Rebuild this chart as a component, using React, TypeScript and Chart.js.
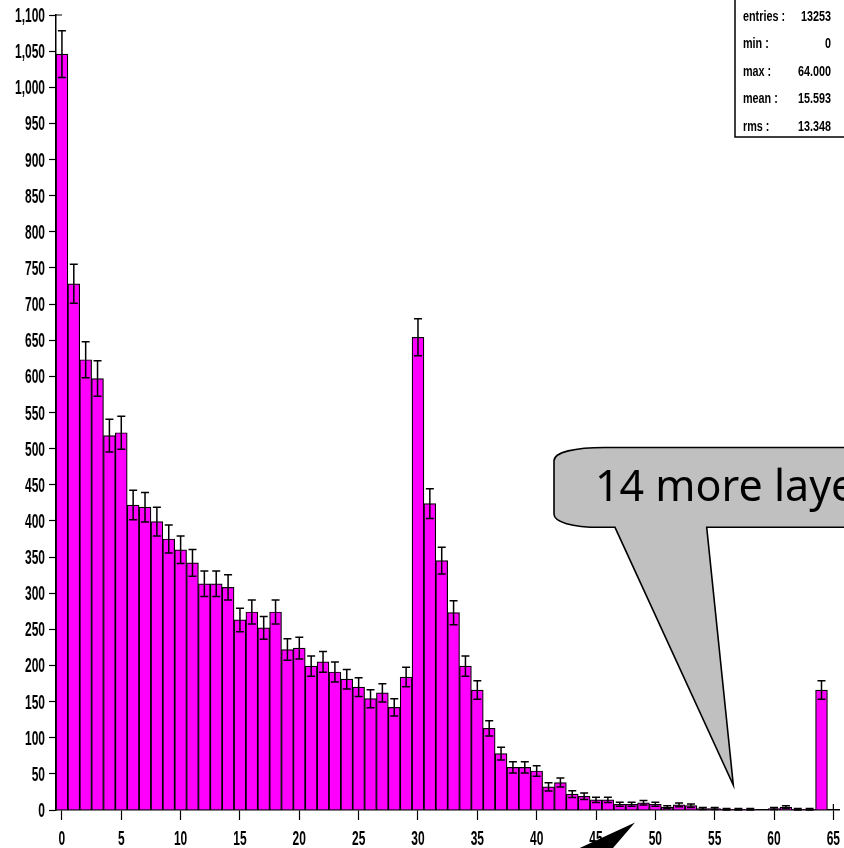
import React, { useEffect, useRef } from "react";
import { Chart, registerables } from "chart.js";

Chart.register(...registerables);

// ---- data ----
const binCenters = [
  0, 1, 2, 3, 4, 5, 6, 7, 8, 9, 10, 11, 12, 13, 14, 15, 16, 17, 18, 19, 20,
  21, 22, 23, 24, 25, 26, 27, 28, 29, 30, 31, 32, 33, 34, 35, 36, 37, 38, 39,
  40, 41, 42, 43, 44, 45, 46, 47, 48, 49, 50, 51, 52, 53, 54, 55, 56, 57, 58,
  59, 60, 61, 62, 63, 64,
];
const counts = [
  1046, 728, 623, 597, 518, 522, 422, 419, 399, 375, 360, 342, 313, 313, 308,
  263, 274, 252, 274, 222, 224, 199, 205, 191, 181, 170, 154, 162, 142, 184,
  654, 424, 345, 273, 199, 166, 113, 78, 59, 59, 54, 32, 38, 22, 19, 14, 14, 8,
  8, 10, 8, 4, 7, 6, 2, 2, 1, 1, 1, 0, 2, 4, 1, 1, 166,
];
const xTickValues = [0, 5, 10, 15, 20, 25, 30, 35, 40, 45, 50, 55, 60, 65];
const yTickValues = [
  0, 50, 100, 150, 200, 250, 300, 350, 400, 450, 500, 550, 600, 650, 700, 750,
  800, 850, 900, 950, 1000, 1050, 1100,
];
const statLabels = ["entries :", "min :", "max :", "mean :", "rms :"];
const statValues = ["13253", "0", "64.000", "15.593", "13.348"];
const calloutText = "14 more layers";

const SANS = '"Liberation Sans", Arial, sans-serif';

function narrowText(ctx: CanvasRenderingContext2D, text: string, x: number, y: number, align: CanvasTextAlign, sx: number) {
  ctx.save();
  ctx.translate(x, y);
  ctx.scale(sx, 1);
  ctx.textAlign = align;
  ctx.textBaseline = "alphabetic";
  ctx.fillText(text, 0, 0);
  ctx.restore();
}

const errorBarsPlugin = {
  id: "errorBars",
  afterDatasetsDraw(chart: any) {
    const { ctx } = chart;
    const xs = chart.scales.x;
    const ys = chart.scales.y;
    ctx.save();
    ctx.strokeStyle = "#000";
    ctx.lineWidth = 1.5;
    counts.forEach((c, i) => {
      if (c <= 0) return;
      const e = Math.sqrt(c);
      const px = xs.getPixelForValue(binCenters[i]);
      const yt = ys.getPixelForValue(c + e);
      const yb = ys.getPixelForValue(Math.max(c - e, 0));
      ctx.beginPath();
      ctx.moveTo(px, yt);
      ctx.lineTo(px, yb);
      ctx.moveTo(px - 4, yt);
      ctx.lineTo(px + 4, yt);
      ctx.moveTo(px - 4, yb);
      ctx.lineTo(px + 4, yb);
      ctx.stroke();
    });
    ctx.restore();
  },
};

const annotationsPlugin = {
  id: "annotations",
  afterDraw(chart: any) {
    const { ctx, chartArea } = chart;
    const xs = chart.scales.x;
    const ys = chart.scales.y;
    ctx.save();

    // axis end crosses
    ctx.strokeStyle = "#000";
    ctx.lineWidth = 1.2;
    const yTop = ys.getPixelForValue(1100);
    ctx.beginPath();
    ctx.moveTo(chartArea.left, yTop);
    ctx.lineTo(chartArea.left + 6, yTop);
    const x65 = xs.getPixelForValue(65);
    ctx.moveTo(x65, chartArea.bottom - 6);
    ctx.lineTo(x65, chartArea.bottom);
    ctx.stroke();

    // tick labels (narrow, tall)
    ctx.fillStyle = "#000";
    ctx.font = `bold 20px ${SANS}`;
    xs.ticks.forEach((t: any) => {
      const px = xs.getPixelForValue(t.value);
      narrowText(ctx, String(t.value), px, chartArea.bottom + 35, "center", 0.6);
    });
    ys.ticks.forEach((t: any) => {
      const py = ys.getPixelForValue(t.value);
      narrowText(ctx, Number(t.value).toLocaleString("en-US"), chartArea.left - 11, py + 7, "right", 0.6);
    });

    // stats box
    ctx.fillStyle = "#fff";
    ctx.fillRect(735, -2, 120, 139);
    ctx.lineWidth = 1.5;
    ctx.strokeStyle = "#000";
    ctx.strokeRect(735, -2, 120, 139);
    ctx.fillStyle = "#000";
    ctx.font = `bold 15px ${SANS}`;
    statLabels.forEach((lab, i) => {
      const yy = 15 + i * 27.5 + 5.5;
      narrowText(ctx, lab, 743, yy, "left", 0.72);
      narrowText(ctx, statValues[i], 831, yy, "right", 0.72);
    });

    // callout bubble
    ctx.beginPath();
    ctx.moveTo(605, 447.5);
    ctx.lineTo(860, 447.5);
    ctx.lineTo(860, 527.3);
    ctx.lineTo(706.7, 527.3);
    ctx.lineTo(733.3, 785);
    ctx.lineTo(615, 527.3);
    ctx.lineTo(600, 527.3);
    ctx.bezierCurveTo(572, 527.3, 554, 522, 554, 514);
    ctx.lineTo(554, 461);
    ctx.bezierCurveTo(554, 452, 575, 447.5, 605, 447.5);
    ctx.closePath();
    ctx.fillStyle = "#c0c0c0";
    ctx.fill();
    ctx.strokeStyle = "#000";
    ctx.lineWidth = 1.6;
    ctx.stroke();
    ctx.fillStyle = "#000";
    ctx.font = `43px "Noto Sans", "DejaVu Sans", sans-serif`;
    ctx.textAlign = "left";
    ctx.textBaseline = "alphabetic";
    ctx.fillText(calloutText, 595, 500.5);

    // black arrow at bottom
    ctx.beginPath();
    ctx.moveTo(635, 822.5);
    ctx.lineTo(532, 870);
    ctx.lineTo(594, 870);
    ctx.closePath();
    ctx.fillStyle = "#000";
    ctx.fill();

    ctx.restore();
  },
};

export default function App() {
  const canvasRef = useRef<HTMLCanvasElement | null>(null);

  useEffect(() => {
    document.body.style.margin = "0";
    const canvas = canvasRef.current;
    if (!canvas) return;
    const chart = new Chart(canvas, {
      type: "bar",
      data: {
        datasets: [
          {
            data: binCenters.map((b, i) => ({ x: b, y: counts[i] })),
            backgroundColor: "#ff00ff",
            borderColor: "#000",
            borderWidth: 1.2,
            barPercentage: 1,
            categoryPercentage: 1,
          },
        ],
      },
      options: {
        animation: false,
        responsive: false,
        devicePixelRatio: 1,
        layout: { padding: { top: 15, right: 4.7, bottom: 0, left: 0 } },
        plugins: {
          legend: { display: false },
          tooltip: { enabled: false },
          title: { display: false },
        },
        scales: {
          x: {
            type: "linear",
            offset: false,
            min: -0.5,
            max: 65.5,
            afterBuildTicks: (s: any) => {
              s.ticks = xTickValues.map((v) => ({ value: v }));
            },
            afterFit: (s: any) => {
              s.height = 38;
              s.paddingLeft = 0;
              s.paddingRight = 0;
            },
            grid: {
              offset: false,
              drawOnChartArea: false,
              drawTicks: true,
              tickLength: 10,
              tickColor: "#000",
              tickWidth: 1.2,
            },
            border: { display: true, color: "#000", width: 1.5 },
            ticks: { display: false, autoSkip: false, maxRotation: 0 },
          },
          y: {
            type: "linear",
            min: 0,
            max: 1100,
            afterBuildTicks: (s: any) => {
              s.ticks = yTickValues.map((v) => ({ value: v }));
            },
            afterFit: (s: any) => {
              s.width = 56;
              s.paddingTop = 0;
              s.paddingBottom = 0;
            },
            grid: {
              drawOnChartArea: false,
              drawTicks: true,
              tickLength: 7,
              tickColor: "#000",
              tickWidth: 1.2,
            },
            border: { display: true, color: "#000", width: 1.5 },
            ticks: { display: false, autoSkip: false },
          },
        },
      },
      plugins: [errorBarsPlugin, annotationsPlugin],
    } as any);
    return () => chart.destroy();
  }, []);

  return (
    <div style={{ position: "fixed", left: 0, top: 0, width: 844, height: 848, background: "#fff" }}>
      <canvas ref={canvasRef} width={844} height={848} style={{ width: 844, height: 848, display: "block" }} />
    </div>
  );
}
